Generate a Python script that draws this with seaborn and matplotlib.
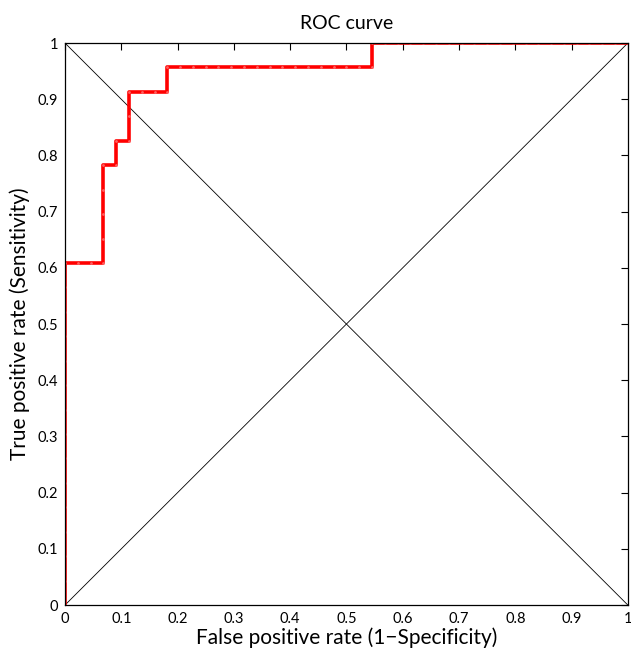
import numpy as np
import pandas as pd
import matplotlib.pyplot as plt
import seaborn as sns

# runs of sorted labels (1 = positive, 0 = negative) and their lengths
run_labels = [1, 0, 1, 0, 1, 0, 1, 0, 1, 0, 1, 0]
run_lengths = [14, 3, 4, 1, 1, 1, 2, 3, 1, 16, 1, 20]
n_pos = 23
n_neg = 44

labels = np.repeat(run_labels, run_lengths)
tpr = np.concatenate([[0], np.cumsum(labels == 1) / n_pos])
fpr = np.concatenate([[0], np.cumsum(labels == 0) / n_neg])
roc = pd.DataFrame({"fpr": fpr, "tpr": tpr})

ticks = [0, 0.1, 0.2, 0.3, 0.4, 0.5, 0.6, 0.7, 0.8, 0.9, 1]
tick_labels = ["0", "0.1", "0.2", "0.3", "0.4", "0.5", "0.6", "0.7", "0.8", "0.9", "1"]

sns.set_style("white")
plt.rcParams["font.family"] = ["Lato", "DejaVu Sans"]
plt.rcParams["text.color"] = "black"
plt.rcParams["axes.labelcolor"] = "black"

fig = plt.figure(figsize=(6.31, 6.52), dpi=100)
ax = fig.add_axes([0.103, 0.072, 0.892, 0.862])

# diagonals
ax.plot([0, 1], [0, 1], color="black", lw=0.6)
ax.plot([0, 1], [1, 0], color="black", lw=0.6)

sns.lineplot(data=roc, x="fpr", y="tpr", sort=False, estimator=None,
             color="red", lw=2.6, marker=".", markersize=4,
             markeredgewidth=0, markerfacecolor="#ff6060", ax=ax)

ax.set_xlim(0, 1)
ax.set_ylim(0, 1)
ax.set_xticks(ticks)
ax.set_xticklabels(tick_labels)
ax.set_yticks(ticks)
ax.set_yticklabels(tick_labels)
ax.tick_params(direction="in", length=5, width=0.8, top=True, right=True,
               labelsize=10.5, pad=5, colors="black")
for s in ax.spines.values():
    s.set_visible(True)
    s.set_color("black")
    s.set_linewidth(0.9)

ax.set_xlabel("False positive rate (1\u2212Specificity)", fontsize=15, labelpad=1)
ax.set_ylabel("True positive rate (Sensitivity)", fontsize=15, labelpad=5)
ax.set_title("ROC curve", fontsize=14, pad=10, color="black")

fig.savefig("out.png", dpi=100)
